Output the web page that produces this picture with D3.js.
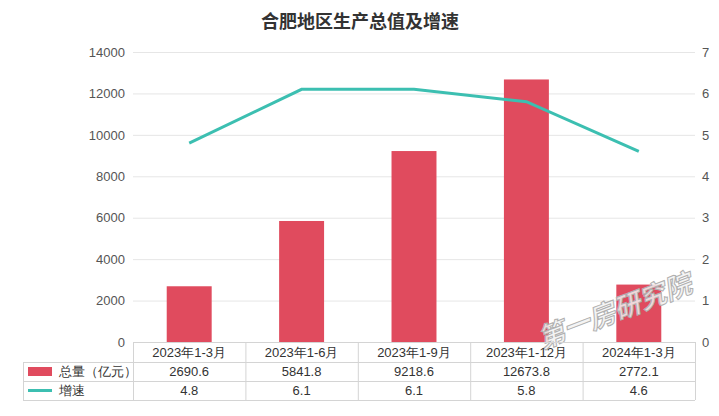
<!DOCTYPE html>
<html><head><meta charset="utf-8">
<script src="https://cdn.jsdelivr.net/npm/d3@7/dist/d3.min.js"></script>
<style>
body{margin:0;background:#fff;}
svg{display:block;}
</style></head>
<body>
<svg id="c" width="719" height="416"></svg>
<script>
const categories = ["2023年1-3月","2023年1-6月","2023年1-9月","2023年1-12月","2024年1-3月"];
const totals = [2690.6, 5841.8, 9218.6, 12673.8, 2772.1];
const growth = [4.8, 6.1, 6.1, 5.8, 4.6];
const leftTicks = [0,2000,4000,6000,8000,10000,12000,14000];
const rightTicks = [0,1,2,3,4,5,6,7];
const seriesNames = ["总量（亿元）","增速"];
const title = "合肥地区生产总值及增速";

const svg = d3.select("#c");
const m={left:133,right:695,top:52,bottom:342};
const cjk = "'Noto Sans CJK SC','Noto Sans',sans-serif";
const narrow = "'Liberation Sans Narrow','Liberation Sans',Arial,sans-serif";
const barColor="#e04b5e", lineColor="#3cbfb1";

const x = d3.scaleBand().domain(categories).range([m.left,m.right]);
const yL = d3.scaleLinear().domain([0,14000]).range([m.bottom,m.top]);
const yR = d3.scaleLinear().domain([0,7]).range([m.bottom,m.top]);

svg.append("text").attr("x",360).attr("y",28).attr("text-anchor","middle")
  .attr("font-family",cjk).attr("font-weight","bold").attr("font-size",18).attr("fill","#333").text(title);

svg.append("g").selectAll("line").data(leftTicks.slice(1)).join("line")
  .attr("x1",m.left).attr("x2",m.right).attr("y1",d=>yL(d)+0.5).attr("y2",d=>yL(d)+0.5)
  .attr("stroke","#e6e6e6");

const ga = svg.append("g").attr("transform",`translate(${m.left-8},0)`)
  .call(d3.axisLeft(yL).tickValues(leftTicks).tickSize(0).tickPadding(0).tickFormat(d3.format("d")));
ga.select(".domain").remove();
ga.selectAll("text").attr("font-family",narrow).attr("font-size",13).attr("fill","#555");

const gr = svg.append("g").attr("transform",`translate(${m.right+7},0)`)
  .call(d3.axisRight(yR).tickValues(rightTicks).tickSize(0).tickPadding(0).tickFormat(d3.format("d")));
gr.select(".domain").remove();
gr.selectAll("text").attr("font-family",narrow).attr("font-size",13).attr("fill","#555");

const bw = x.bandwidth()*0.4;
svg.append("g").selectAll("rect").data(totals).join("rect")
  .attr("x",(d,i)=>x(categories[i])+x.bandwidth()/2-bw/2)
  .attr("width",bw).attr("y",d=>yL(d)).attr("height",d=>yL(0)-yL(d))
  .attr("fill",barColor);

const line = d3.line().x((d,i)=>x(categories[i])+x.bandwidth()/2).y(d=>yR(d));
svg.append("path").datum(growth).attr("d",line).attr("fill","none")
  .attr("stroke",lineColor).attr("stroke-width",3);

svg.append("text").attr("transform","translate(618,320) rotate(-21)").attr("text-anchor","middle")
  .attr("font-family",cjk).attr("font-weight","bold").attr("font-style","italic").attr("font-size",27)
  .attr("fill","#f2f2f2").attr("fill-opacity",0.85).attr("stroke","#b0b0b0").attr("stroke-width",1)
  .text("第一房研究院");

const tLeft=23, rows=[342,362,381,400];
const tg = svg.append("g");
const colEdges = [tLeft, m.left].concat(categories.map(c=>x(c)+x.bandwidth()));
tg.selectAll("line.h").data(rows).join("line")
  .attr("x1",(d,i)=>i===0?m.left:tLeft).attr("x2",m.right)
  .attr("y1",d=>d+0.5).attr("y2",d=>d+0.5).attr("stroke","#d4d4d4");
tg.selectAll("line.v").data(colEdges).join("line")
  .attr("x1",d=>d+0.5).attr("x2",d=>d+0.5)
  .attr("y1",(d,i)=>i===0?rows[1]:rows[0]).attr("y2",rows[3]).attr("stroke","#d4d4d4");

const cx = i=>x(categories[i])+x.bandwidth()/2;
tg.selectAll("text.cat").data(categories).join("text")
  .attr("x",(d,i)=>cx(i)).attr("y",357).attr("text-anchor","middle")
  .attr("font-family",narrow).attr("font-size",13).attr("fill","#333").text(d=>d);
tg.selectAll("text.v1").data(totals).join("text")
  .attr("x",(d,i)=>cx(i)).attr("y",376).attr("text-anchor","middle")
  .attr("font-family",narrow).attr("font-size",13).attr("fill","#333").text(d=>d3.format(".1f")(d));
tg.selectAll("text.v2").data(growth).join("text")
  .attr("x",(d,i)=>cx(i)).attr("y",395).attr("text-anchor","middle")
  .attr("font-family",narrow).attr("font-size",13).attr("fill","#333").text(d=>d3.format(".1f")(d));

tg.append("rect").attr("x",28).attr("y",367).attr("width",24).attr("height",9).attr("fill",barColor);
tg.append("line").attr("x1",28).attr("x2",52).attr("y1",390.5).attr("y2",390.5).attr("stroke",lineColor).attr("stroke-width",3);
tg.append("text").attr("x",59).attr("y",376).attr("font-family",narrow).attr("font-size",13).attr("fill","#333").text(seriesNames[0]);
tg.append("text").attr("x",59).attr("y",395).attr("font-family",narrow).attr("font-size",13).attr("fill","#333").text(seriesNames[1]);
</script>
</body></html>
